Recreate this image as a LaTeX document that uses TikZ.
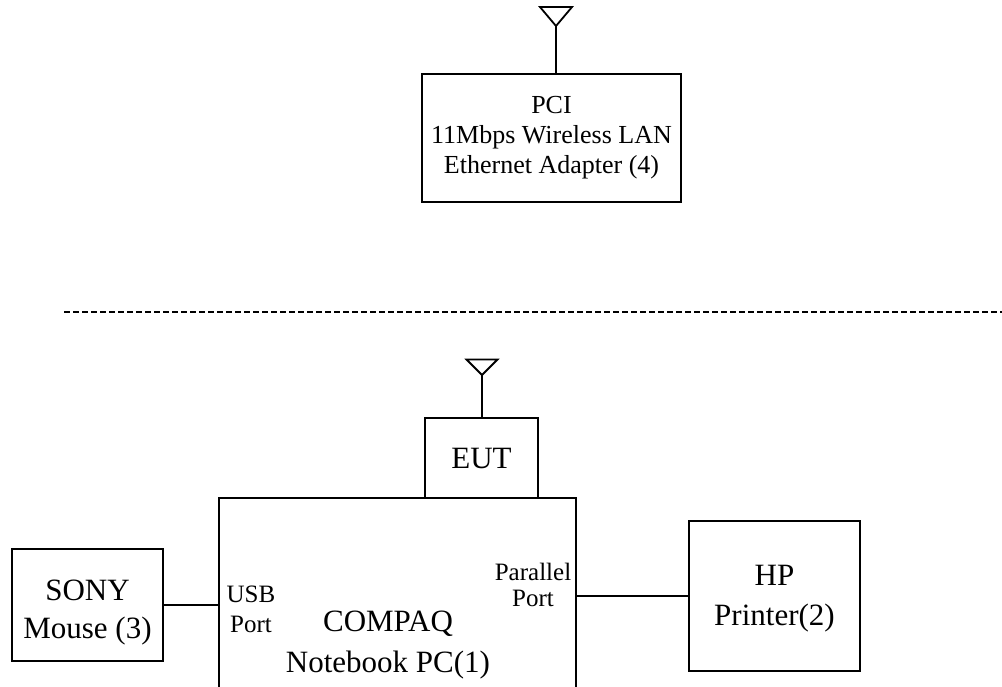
\documentclass[tikz,border=0pt]{standalone}
\usepackage{fontspec}
\setmainfont{Liberation Serif}
\begin{document}
\begin{tikzpicture}[x=1pt,y=-1pt,
  line width=1.8pt,
  box/.style={draw, line width=1.8pt, inner sep=0pt, align=center},
  bigtxt/.style={font=\fontsize{31}{40}\selectfont, align=center, inner sep=0pt},
  pcitxt/.style={font=\fontsize{26}{30}\selectfont},
  porttxt/.style={font=\fontsize{25}{31}\selectfont, align=center, inner sep=0pt},
  sep/.style={line width=1.6pt, dash pattern=on 6pt off 3pt}]
\useasboundingbox (0,0) rectangle (1002,686);
\clip (0,0) rectangle (1002,686);

% upper device
\node[box, pcitxt, minimum width=259pt, minimum height=128pt] (pci) at (551.5,138)
  {PCI\\11Mbps Wireless LAN\\Ethernet Adapter (4)};
\coordinate (ant1) at (556,26);
\draw (ant1) -- (ant1 |- pci.north);
\draw[line join=miter] (ant1) -- ++(-16,-19) -- ++(32,0) -- cycle;

% separator
\coordinate (dl) at (64,312);
\coordinate (dr) at (1002,312);
\draw[sep] (dl) -- (dr);

% lower set-up
\node[box, minimum width=357pt, minimum height=230pt] (compaq) at (397.5,613) {};
\node[bigtxt, font=\fontsize{31}{41}\selectfont] (compaqlbl) at (388,645) {COMPAQ\\Notebook PC(1)};
\node[box, bigtxt, minimum width=113pt, minimum height=80pt] (eut) at (481.5,458) {\raisebox{-2pt}{EUT}};
\coordinate (ant2) at (482,375);
\draw (ant2) -- (ant2 |- eut.north);
\draw[line join=miter] (ant2) -- ++(-15.5,-15.5) -- ++(31,0) -- cycle;

\node[box, minimum width=151pt, minimum height=112pt] (sony) at (87.5,605) {};
\node[bigtxt, font=\fontsize{31}{38}\selectfont] (sonylbl) at (87.5,613) {SONY\\Mouse (3)};

\node[box, minimum width=171pt, minimum height=150pt] (hp) at (774.5,596) {};
\node[bigtxt] (hplbl) at (774.5,599) {HP\\Printer(2)};

\node[porttxt, font=\fontsize{25}{30}\selectfont] (usb) at (251,609) {USB\\Port};
\node[porttxt, font=\fontsize{25}{26}\selectfont] (par) at (533,585) {Parallel\\Port};

\draw (sony.east) -- (sony.east -| compaq.west);
\draw (hp.west) -- (hp.west -| compaq.east);
\end{tikzpicture}
\end{document}
